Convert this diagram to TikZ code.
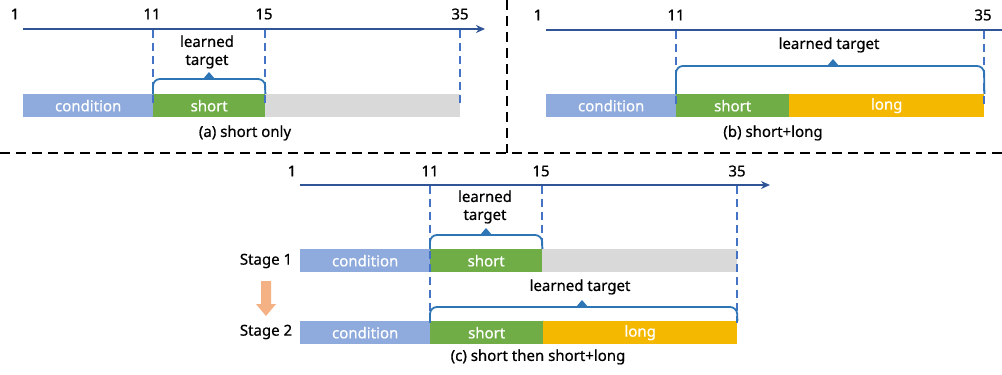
\documentclass[tikz,border=0pt]{standalone}
\usepackage{fontspec}
\setmainfont{Noto Sans}[FakeBold=0.7]
\usetikzlibrary{arrows.meta}
\definecolor{condc}{HTML}{8FAADC}
\definecolor{shortc}{HTML}{70AD47}
\definecolor{longc}{HTML}{F5B800}
\definecolor{grayc}{HTML}{D9D9D9}
\definecolor{axisc}{HTML}{2F5597}
\definecolor{dashc}{HTML}{4472C4}
\definecolor{bracec}{HTML}{2E75B6}
\definecolor{arrc}{HTML}{F4B183}
\tikzset{
  barbox/.style={anchor=north west, inner sep=0pt, minimum height=23pt, text=white, font=\fontsize{15}{15}\selectfont},
  axisline/.style={axisc, line width=2pt, -{Stealth[length=9pt,width=8pt]}},
  vdash/.style={dashc, line width=2pt, dash pattern=on 8pt off 5pt},
  sep/.style={black, line width=2.5pt, dash pattern=on 10pt off 6pt},
  bracepath/.style={bracec, line width=1.8pt, rounded corners=7pt},
  tri/.style={fill=bracec, draw=none},
  numlbl/.style={font=\fontsize{15}{15}\selectfont, inner sep=0pt},
  lbl/.style={font=\fontsize{15}{18}\selectfont, inner sep=0pt, align=center, text=black},
}
\begin{document}
\begin{tikzpicture}[x=1pt,y=-1pt]
\useasboundingbox (0,0) rectangle (1002,375);
% separators
\draw[sep] (507,0) -- (507,153);
\draw[sep] (0,153) -- (1002,153);

% ===== (a) =====
\coordinate (a0) at (23,29);
\coordinate (aend) at (485,29);
\draw[axisline] (a0) -- (aend);
\node[numlbl] (a1) at (15,14) {1};
\node[numlbl] (a11) at (152,14) {11};
\node[numlbl] (a15) at (264,14) {15};
\node[numlbl] (a35) at (460,14) {35};
\node[barbox, fill=condc, minimum width=130pt] (acond) at (23,94) {condition};
\node[barbox, fill=shortc, minimum width=112pt] (ashort) at (153,94) {short};
\node[barbox, fill=grayc, minimum width=195pt] (agray) at (265,94) {};
\draw[vdash] (153,30) -- (153,106);
\draw[vdash] (265,30) -- (265,106);
\draw[vdash] (460,30) -- (460,106);
\draw[bracepath] (ashort.north west) -- (153,79) -- (265,79) -- (ashort.north east);
\draw[tri] (203,79) -- (209,72) -- (215,79) -- cycle;
\node[lbl] (alt) at (207,52) {learned\\target};
\node[lbl] (acap) at (245,133) {(a) short only};

% ===== (b) =====
\coordinate (b0) at (546,30);
\coordinate (bend) at (1002,30);
\draw[axisc, line width=2pt] (b0) -- (bend);
\node[numlbl] (b1) at (538,15) {1};
\node[numlbl] (b11) at (676,15) {11};
\node[numlbl] (b35) at (983,15) {35};
\node[barbox, fill=condc, minimum width=130pt] (bcond) at (546,94) {condition};
\node[barbox, fill=shortc, minimum width=113pt] (bshort) at (676,94) {short};
\node[barbox, fill=longc, minimum width=195pt] (blong) at (789,94) {long};
\draw[vdash] (676,31) -- (676,106);
\draw[vdash] (984,31) -- (984,106);
\draw[bracepath] (bshort.north west) -- (676,66) -- (984,66) -- (blong.north east);
\draw[tri] (827,66) -- (833,59) -- (839,66) -- cycle;
\node[lbl] (blt) at (829,45) {learned target};
\node[lbl] (bcap) at (773,133) {(b) short+long};

% ===== (c) =====
\coordinate (c0) at (300,185);
\coordinate (cend) at (770,185);
\draw[axisline] (c0) -- (cend);
\node[numlbl] (c1) at (292,171) {1};
\node[numlbl] (c11) at (430,171) {11};
\node[numlbl] (c15) at (541,171) {15};
\node[numlbl] (c35) at (737,171) {35};
% stage 1
\node[lbl] (st1) at (266,261) {Stage 1};
\node[barbox, fill=condc, minimum width=130pt] (c1cond) at (300,249) {condition};
\node[barbox, fill=shortc, minimum width=112pt] (c1short) at (430,249) {short};
\node[barbox, fill=grayc, minimum width=195pt] (c1gray) at (542,249) {};
% stage 2
\node[lbl] (st2) at (266,332) {Stage 2};
\node[barbox, fill=condc, minimum width=130pt] (c2cond) at (300,321) {condition};
\node[barbox, fill=shortc, minimum width=113pt] (c2short) at (430,321) {short};
\node[barbox, fill=longc, minimum width=194pt] (c2long) at (543,321) {long};
\draw[vdash] (430,186) -- (430,323);
\draw[vdash] (542,186) -- (542,250);
\draw[vdash] (737,186) -- (737,323);
\draw[bracepath] (c1short.north west) -- (430,235) -- (542,235) -- (c1short.north east);
\draw[tri] (480,235) -- (486,228) -- (492,235) -- cycle;
\node[lbl] (c1lt) at (485,207) {learned\\target};
\draw[bracepath] (c2short.north west) -- (430,307) -- (737,307) -- (c2long.north east);
\draw[tri] (576,307) -- (582,300) -- (588,307) -- cycle;
\node[lbl] (c2lt) at (580,287) {learned target};
% orange arrow
\fill[arrc] (261,281) -- (271,281) -- (271,304) -- (276,304) -- (266,316) -- (256,304) -- (261,304) -- cycle;
\node[lbl] (ccap) at (538,357) {(c) short then short+long};
\end{tikzpicture}
\end{document}
